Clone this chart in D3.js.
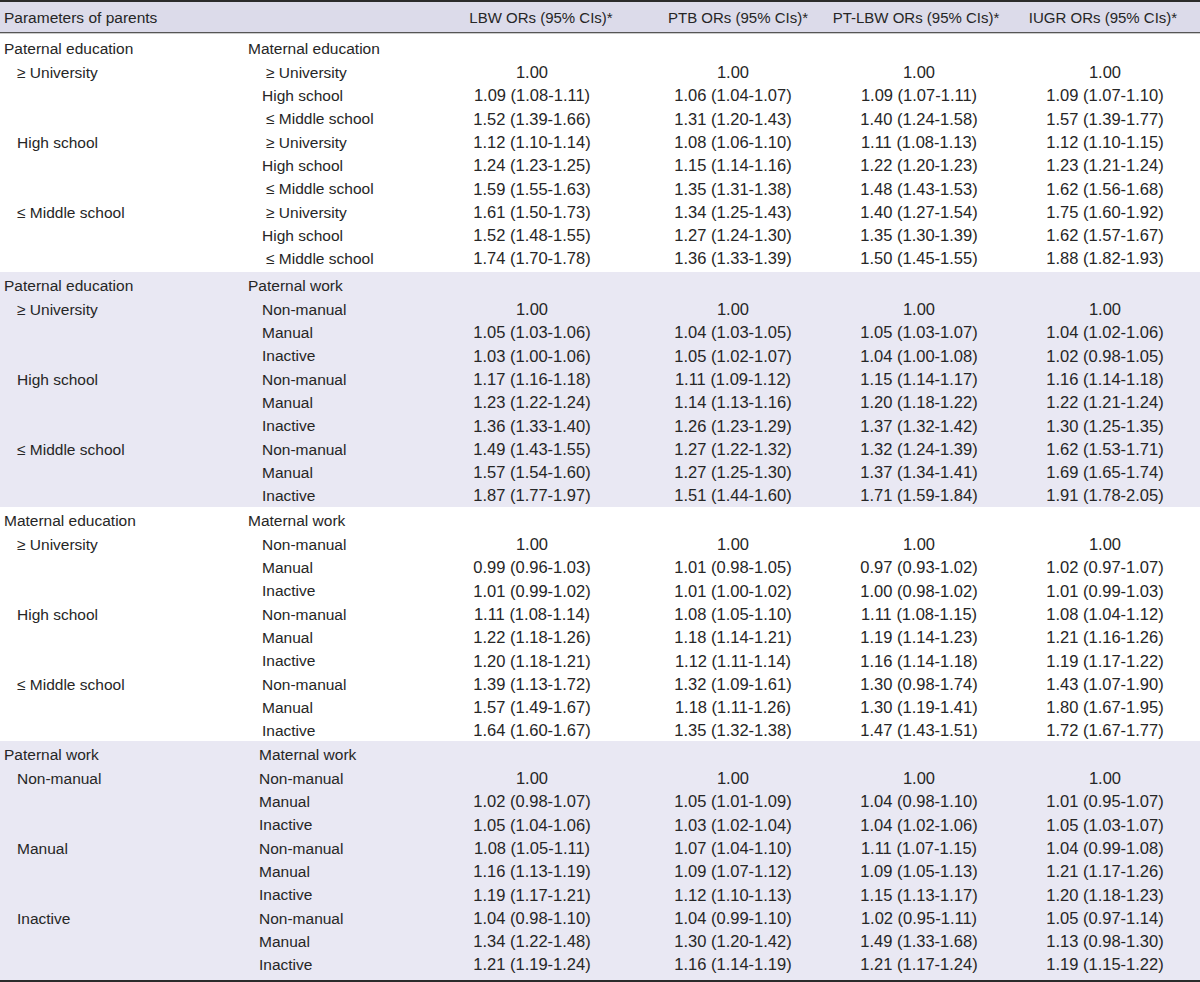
<!DOCTYPE html>
<html>
<head>
<meta charset="utf-8">
<script src="https://cdn.jsdelivr.net/npm/d3@7"></script>
<style>
  body { margin: 0; background: #fff; }
  text { font-family: "Liberation Sans", Arial, sans-serif; fill: #262626; }
  .lab { font-size: 15.5px; }
  .num { font-size: 16.5px; }
  .hdr { font-size: 15px; }
</style>
</head>
<body>
<div id="table"></div>
<script>

      // column headers
      var outcomes = ["LBW ORs (95% CIs)*", "PTB ORs (95% CIs)*", "PT-LBW ORs (95% CIs)*", "IUGR ORs (95% CIs)*"];

      // each block: left title, right title
      var blockLeft = ["Paternal education", "Paternal education", "Maternal education", "Paternal work"];
      var blockRight = ["Maternal education", "Paternal work", "Maternal work", "Maternal work"];

      // sub-categories of each block (left every 3 rows, right every row)
      var leftCats = [
        ["≥ University", "High school", "≤ Middle school"],
        ["≥ University", "High school", "≤ Middle school"],
        ["≥ University", "High school", "≤ Middle school"],
        ["Non-manual", "Manual", "Inactive"]
      ];
      var rightCats = [
        ["≥ University", "High school", "≤ Middle school"],
        ["Non-manual", "Manual", "Inactive"],
        ["Non-manual", "Manual", "Inactive"],
        ["Non-manual", "Manual", "Inactive"]
      ];

      // odds ratios, 9 rows per block, blocks in order
      var lbw = [
        "1.00", "1.09 (1.08-1.11)", "1.52 (1.39-1.66)", "1.12 (1.10-1.14)", "1.24 (1.23-1.25)", "1.59 (1.55-1.63)", "1.61 (1.50-1.73)", "1.52 (1.48-1.55)", "1.74 (1.70-1.78)",
        "1.00", "1.05 (1.03-1.06)", "1.03 (1.00-1.06)", "1.17 (1.16-1.18)", "1.23 (1.22-1.24)", "1.36 (1.33-1.40)", "1.49 (1.43-1.55)", "1.57 (1.54-1.60)", "1.87 (1.77-1.97)",
        "1.00", "0.99 (0.96-1.03)", "1.01 (0.99-1.02)", "1.11 (1.08-1.14)", "1.22 (1.18-1.26)", "1.20 (1.18-1.21)", "1.39 (1.13-1.72)", "1.57 (1.49-1.67)", "1.64 (1.60-1.67)",
        "1.00", "1.02 (0.98-1.07)", "1.05 (1.04-1.06)", "1.08 (1.05-1.11)", "1.16 (1.13-1.19)", "1.19 (1.17-1.21)", "1.04 (0.98-1.10)", "1.34 (1.22-1.48)", "1.21 (1.19-1.24)"
      ];
      var ptb = [
        "1.00", "1.06 (1.04-1.07)", "1.31 (1.20-1.43)", "1.08 (1.06-1.10)", "1.15 (1.14-1.16)", "1.35 (1.31-1.38)", "1.34 (1.25-1.43)", "1.27 (1.24-1.30)", "1.36 (1.33-1.39)",
        "1.00", "1.04 (1.03-1.05)", "1.05 (1.02-1.07)", "1.11 (1.09-1.12)", "1.14 (1.13-1.16)", "1.26 (1.23-1.29)", "1.27 (1.22-1.32)", "1.27 (1.25-1.30)", "1.51 (1.44-1.60)",
        "1.00", "1.01 (0.98-1.05)", "1.01 (1.00-1.02)", "1.08 (1.05-1.10)", "1.18 (1.14-1.21)", "1.12 (1.11-1.14)", "1.32 (1.09-1.61)", "1.18 (1.11-1.26)", "1.35 (1.32-1.38)",
        "1.00", "1.05 (1.01-1.09)", "1.03 (1.02-1.04)", "1.07 (1.04-1.10)", "1.09 (1.07-1.12)", "1.12 (1.10-1.13)", "1.04 (0.99-1.10)", "1.30 (1.20-1.42)", "1.16 (1.14-1.19)"
      ];
      var ptlbw = [
        "1.00", "1.09 (1.07-1.11)", "1.40 (1.24-1.58)", "1.11 (1.08-1.13)", "1.22 (1.20-1.23)", "1.48 (1.43-1.53)", "1.40 (1.27-1.54)", "1.35 (1.30-1.39)", "1.50 (1.45-1.55)",
        "1.00", "1.05 (1.03-1.07)", "1.04 (1.00-1.08)", "1.15 (1.14-1.17)", "1.20 (1.18-1.22)", "1.37 (1.32-1.42)", "1.32 (1.24-1.39)", "1.37 (1.34-1.41)", "1.71 (1.59-1.84)",
        "1.00", "0.97 (0.93-1.02)", "1.00 (0.98-1.02)", "1.11 (1.08-1.15)", "1.19 (1.14-1.23)", "1.16 (1.14-1.18)", "1.30 (0.98-1.74)", "1.30 (1.19-1.41)", "1.47 (1.43-1.51)",
        "1.00", "1.04 (0.98-1.10)", "1.04 (1.02-1.06)", "1.11 (1.07-1.15)", "1.09 (1.05-1.13)", "1.15 (1.13-1.17)", "1.02 (0.95-1.11)", "1.49 (1.33-1.68)", "1.21 (1.17-1.24)"
      ];
      var iugr = [
        "1.00", "1.09 (1.07-1.10)", "1.57 (1.39-1.77)", "1.12 (1.10-1.15)", "1.23 (1.21-1.24)", "1.62 (1.56-1.68)", "1.75 (1.60-1.92)", "1.62 (1.57-1.67)", "1.88 (1.82-1.93)",
        "1.00", "1.04 (1.02-1.06)", "1.02 (0.98-1.05)", "1.16 (1.14-1.18)", "1.22 (1.21-1.24)", "1.30 (1.25-1.35)", "1.62 (1.53-1.71)", "1.69 (1.65-1.74)", "1.91 (1.78-2.05)",
        "1.00", "1.02 (0.97-1.07)", "1.01 (0.99-1.03)", "1.08 (1.04-1.12)", "1.21 (1.16-1.26)", "1.19 (1.17-1.22)", "1.43 (1.07-1.90)", "1.80 (1.67-1.95)", "1.72 (1.67-1.77)",
        "1.00", "1.01 (0.95-1.07)", "1.05 (1.03-1.07)", "1.04 (0.99-1.08)", "1.21 (1.17-1.26)", "1.20 (1.18-1.23)", "1.05 (0.97-1.14)", "1.13 (0.98-1.30)", "1.19 (1.15-1.22)"
      ];

      var columns = [lbw, ptb, ptlbw, iugr];

      var width = 1200, height = 982;
      var headTop = 2, headBottom = 33, tableBottom = 980;
      var rowH = 23.3;

      // where each shaded/white block begins (last value = table bottom)
      var bandEdges = [headBottom, 272, 507, 741, tableBottom];
      var textTops = [35, 272, 507, 741];

      var svg = d3.select("#table").append("svg")
                .attr("width", width)
                .attr("height", height);

      // scales
      var rowY = d3.scaleLinear().domain([0, 1]).range([14, 14 + rowH]);  // row index inside block -> offset
      var hdrX = d3.scaleOrdinal().domain(d3.range(4)).range([541, 738, 916, 1103]);
      var numX = d3.scaleOrdinal().domain(d3.range(4)).range([532, 733, 919, 1105]);

      ////// backgrounds /////////////////
      svg.append("rect").attr("x", 0).attr("y", headTop).attr("width", width)
         .attr("height", headBottom - headTop).attr("fill", "#dcdbea");

      svg.selectAll(".band")
         .data(d3.range(4))
         .enter()
         .append("rect")
         .attr("class", "band")
         .attr("x", 0)
         .attr("y", function(d) { return bandEdges[d]; })
         .attr("width", width)
         .attr("height", function(d) { return bandEdges[d + 1] - bandEdges[d]; })
         .attr("fill", function(d) { return d % 2 == 1 ? "#e9e8f3" : "#ffffff"; });

      // rules
      svg.append("rect").attr("x", 0).attr("y", 0).attr("width", width).attr("height", 2).attr("fill", "#2b2b2b");
      svg.append("rect").attr("x", 0).attr("y", headBottom - 1).attr("width", width).attr("height", 1.3).attr("fill", "#555");
      svg.append("rect").attr("x", 0).attr("y", tableBottom).attr("width", width).attr("height", 2).attr("fill", "#2b2b2b");

      /////// header //////////////////////////////
      svg.append("text").attr("class", "hdr").attr("x", 4).attr("y", 17.5)
         .attr("dy", "0.35em").text("Parameters of parents").style("font-size", "15.5px");

      svg.selectAll(".hcol")
         .data(outcomes)
         .enter()
         .append("text")
         .attr("class", "hdr")
         .attr("x", function(d, i) { return hdrX(i); })
         .attr("y", 17.5)
         .attr("dy", "0.35em")
         .attr("text-anchor", "middle")
         .text(function(d) { return d; });

      // x offsets for right-hand labels per block
      var rightTitleX = [248, 248, 248, 259];
      var rightSubX = [262, 262, 262, 259];

      function indent(s) { return (s[0] == "≥" || s[0] == "≤") ? 4 : 0; }

      ///// blocks ////////////////////
      d3.range(4).forEach(function(b) {
          var g = svg.append("g").attr("transform", "translate(0," + textTops[b] + ")");

          g.append("text").attr("class", "lab").attr("x", 4).attr("y", rowY(0))
           .attr("dy", "0.35em").text(blockLeft[b]);
          g.append("text").attr("class", "lab").attr("x", rightTitleX[b]).attr("y", rowY(0))
           .attr("dy", "0.35em").text(blockRight[b]);

          g.selectAll(".lc")
           .data(leftCats[b])
           .enter()
           .append("text")
           .attr("class", "lab")
           .attr("x", 17)
           .attr("y", function(d, i) { return rowY(1 + i * 3); })
           .attr("dy", "0.35em")
           .text(function(d) { return d; });

          var rows = d3.range(9);

          g.selectAll(".rc")
           .data(rows)
           .enter()
           .append("text")
           .attr("class", "lab")
           .attr("x", function(d) { var s = rightCats[b][d % 3]; return rightSubX[b] + indent(s); })
           .attr("y", function(d) { return rowY(1 + d); })
           .attr("dy", "0.35em")
           .text(function(d) { return rightCats[b][d % 3]; });

          columns.forEach(function(col, c) {
              g.selectAll(".v" + c)
               .data(col.slice(b * 9, b * 9 + 9))
               .enter()
               .append("text")
               .attr("class", "num")
               .attr("x", numX(c))
               .attr("y", function(d, i) { return rowY(1 + i); })
               .attr("dy", "0.35em")
               .attr("text-anchor", "middle")
               .text(function(d) { return d; });
          });
      });

</script>
</body>
</html>
